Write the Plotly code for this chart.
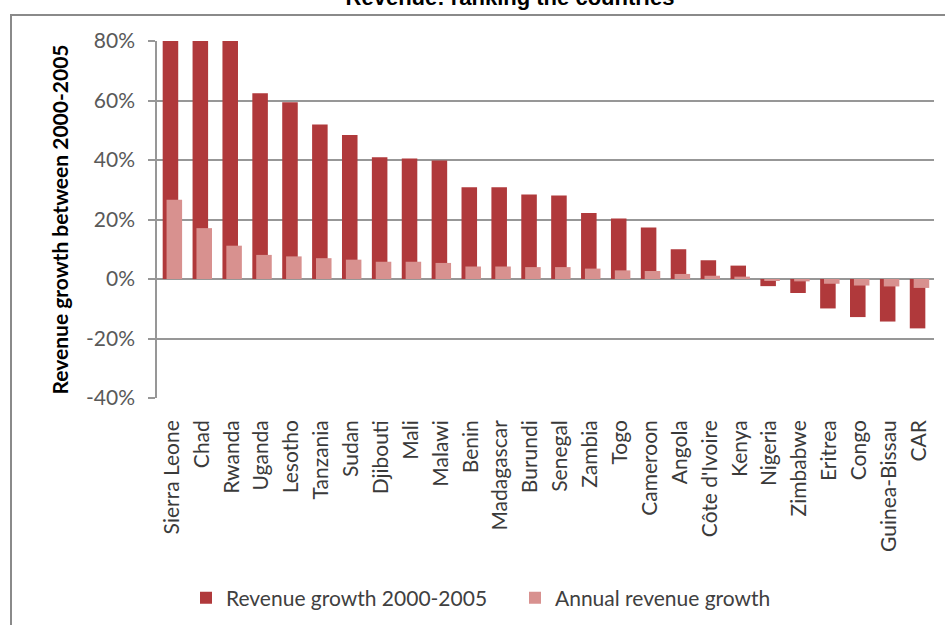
import plotly.graph_objects as go

countries = ["Sierra Leone", "Chad", "Rwanda", "Uganda", "Lesotho", "Tanzania", "Sudan",
             "Djibouti", "Mali", "Malawi", "Benin", "Madagascar", "Burundi", "Senegal",
             "Zambia", "Togo", "Cameroon", "Angola", "Côte d'Ivoire", "Kenya", "Nigeria",
             "Zimbabwe", "Eritrea", "Congo", "Guinea-Bissau", "CAR"]
growth_2000_2005 = [3.10, 1.58, 0.89, 0.624, 0.594, 0.519, 0.484, 0.409, 0.405, 0.398,
                    0.308, 0.308, 0.284, 0.281, 0.222, 0.203, 0.173, 0.100, 0.063, 0.045,
                    -0.024, -0.047, -0.099, -0.128, -0.143, -0.166]
annual_growth = [0.266, 0.171, 0.112, 0.081, 0.076, 0.070, 0.065, 0.058, 0.058, 0.054,
                 0.042, 0.042, 0.040, 0.040, 0.035, 0.029, 0.027, 0.017, 0.011, 0.008,
                 -0.004, -0.008, -0.016, -0.022, -0.025, -0.030]
y_ticks = [-0.4, -0.2, 0.0, 0.2, 0.4, 0.6, 0.8]
y_ticktext = ["-40%", "-20%", "0%", "20%", "40%", "60%", "80%"]
series_names = ["Revenue growth 2000-2005", "Annual revenue growth"]
title_text = "Revenue: ranking the countries"
y_title = "Revenue growth between 2000-2005"

W, H = 945, 625
L, R, T, B = 157, 934, 41, 398
PW, PH = R - L, B - T
FONT = "Lato"
GRID = "#979797"

n = len(countries)
xs = list(range(n))

fig = go.Figure()
fig.add_trace(go.Bar(x=xs, y=growth_2000_2005, name=series_names[0],
                     marker=dict(color="#B0393B", line=dict(width=0)),
                     width=0.52, offset=-0.31))
fig.add_trace(go.Bar(x=xs, y=annual_growth, name=series_names[1],
                     marker=dict(color="#D8918F", line=dict(width=0)),
                     width=0.52, offset=-0.18))

y0, y1 = y_ticks[0], y_ticks[-1]
zero_pos = (0 - y0) / (y1 - y0)

fig.update_layout(
    width=W, height=H,
    margin=dict(l=L, r=W - R, t=T, b=H - B, pad=0),
    paper_bgcolor="white", plot_bgcolor="white",
    barmode="overlay",
    font=dict(family=FONT, size=21, color="#404040"),
    title=dict(text=title_text, x=510 / W, xanchor="center", xref="container",
               y=1 - 5 / H, yref="container", yanchor="bottom",
               font=dict(family="Liberation Sans", size=22, color="black", weight="bold")),
    xaxis=dict(range=[-0.5, n - 0.5], tickmode="array", tickvals=xs, ticktext=countries,
               tickangle=-90, showgrid=False, showline=False, ticks="", zeroline=False,
               ticklabelstandoff=17, tickfont=dict(family=FONT, size=21, color="#3a3a3a")),
    xaxis2=dict(overlaying="x", anchor="free", position=zero_pos, range=[-0.5, n - 0.5],
                tickmode="linear", tick0=0.5, dtick=1, ticks="outside", ticklen=5,
                tickcolor=GRID, tickwidth=1.5, showline=True, linecolor=GRID, linewidth=1.5,
                showticklabels=False, showgrid=False, zeroline=False),
    yaxis=dict(range=[y0, y1], tickmode="array", tickvals=y_ticks, ticktext=y_ticktext,
               showgrid=True, gridcolor=GRID, gridwidth=1.5, zeroline=False, showline=True,
               linecolor=GRID, linewidth=1.5, ticks="outside", ticklen=7, tickcolor=GRID,
               tickwidth=1.5, ticklabelstandoff=9,
               tickfont=dict(family=FONT, size=21, color="#595959"),
               title=dict(text=y_title, standoff=12,
                          font=dict(family=FONT, size=21, color="black", weight="bold"))),
    legend=dict(orientation="h", xref="container", yref="container",
                x=186 / W, xanchor="left", y=1 - 598 / H, yanchor="middle",
                entrywidth=284, entrywidthmode="pixels", bgcolor="rgba(0,0,0,0)",
                font=dict(family=FONT, size=21, color="#404040")),
    showlegend=True,
)
# chart-area frame (Excel chart border), extends beyond the visible page on right/bottom
fig.add_shape(type="rect", xref="paper", yref="paper",
              x0=(11 - L) / PW, x1=(W + 20 - L) / PW,
              y0=(B - (H + 20)) / PH, y1=(B - 15) / PH,
              line=dict(color="#8a8a8a", width=2), fillcolor="rgba(0,0,0,0)", layer="above")

fig.write_html("out.html")
